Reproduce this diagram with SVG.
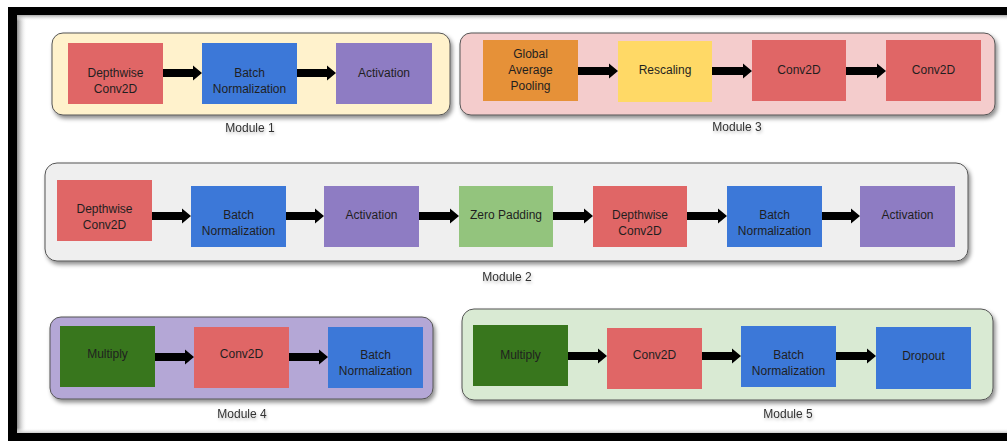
<svg xmlns="http://www.w3.org/2000/svg" width="1007" height="441" viewBox="0 0 1007 441">
<defs>
<filter id="sh" x="-5%" y="-20%" width="115%" height="150%">
<feDropShadow dx="2" dy="3" stdDeviation="2" flood-color="#000" flood-opacity="0.45"/>
</filter>
<filter id="tsh" x="-20%" y="-50%" width="140%" height="200%">
<feDropShadow dx="1" dy="2" stdDeviation="1.5" flood-color="#000" flood-opacity="0.25"/>
</filter>
<linearGradient id="gl" x1="0" y1="0" x2="1" y2="0">
<stop offset="0" stop-color="#8a8a8a"/>
<stop offset="1" stop-color="#fff" stop-opacity="0"/>
</linearGradient>
<linearGradient id="gt" x1="0" y1="0" x2="0" y2="1">
<stop offset="0" stop-color="#a8a8a8"/>
<stop offset="1" stop-color="#fff" stop-opacity="0"/>
</linearGradient>
<linearGradient id="gb" x1="0" y1="1" x2="0" y2="0">
<stop offset="0" stop-color="#c8c8c8"/>
<stop offset="1" stop-color="#fff" stop-opacity="0"/>
</linearGradient>
</defs>
<style>
.box{stroke:#555;stroke-width:1;filter:url(#sh)}
.n{stroke:none}
.red{fill:#e06666}
.blue{fill:#3c78d8}
.purple{fill:#8e7cc3}
.orange{fill:#e69138}
.yellow{fill:#ffd966}
.lgreen{fill:#93c47d}
.dgreen{fill:#38761d}
text{font-family:"Liberation Sans",Arial,sans-serif;font-size:12px;fill:#1f1f1f;text-anchor:middle}
.lbl{fill:#333;filter:url(#tsh)}
.arr{fill:#000}
</style>
<rect x="0" y="0" width="1007" height="441" fill="#fff"/>
<g id="frame">
<rect x="17" y="15" width="10" height="418" fill="url(#gl)"/>
<rect x="17" y="15" width="990" height="6" fill="url(#gt)"/>
<rect x="17" y="428" width="990" height="5" fill="url(#gb)"/>
<rect x="8" y="7" width="999" height="8" fill="#000"/>
<rect x="8" y="7" width="9" height="434" fill="#000"/>
<rect x="8" y="433" width="999" height="8" fill="#000"/>
</g>

<g id="module1">
<rect class="box" x="52" y="33" width="398" height="82" rx="11" fill="#fff2cc"/>
<text class="lbl" x="250" y="132">Module 1</text>
</g>
<g id="m1-depthwise"><rect class="n red" x="68" y="43" width="95" height="61"/><text x="115.5" y="76.5">Depthwise</text><text x="115.5" y="92.5">Conv2D</text></g>
<g id="m1-batchnorm"><rect class="n blue" x="202" y="43" width="95" height="61"/><text x="249.5" y="76.5">Batch</text><text x="249.5" y="92.5">Normalization</text></g>
<g id="m1-activation"><rect class="n purple" x="336" y="43" width="96" height="61"/><text x="384" y="76.5">Activation</text></g>

<g id="module3">
<rect class="box" x="460" y="33" width="535" height="82" rx="11" fill="#f4cccc"/>
<text class="lbl" x="737" y="131">Module 3</text>
</g>
<g id="m3-gap"><rect class="n orange" x="483" y="40" width="95" height="61"/><text x="530.5" y="58">Global</text><text x="530.5" y="74">Average</text><text x="530.5" y="90">Pooling</text></g>
<g id="m3-rescaling"><rect class="n yellow" x="618" y="41" width="94" height="61"/><text x="665" y="74">Rescaling</text></g>
<g id="m3-conv2d-a"><rect class="n red" x="752" y="40" width="94" height="61"/><text x="799" y="74">Conv2D</text></g>
<g id="m3-conv2d-b"><rect class="n red" x="886" y="40" width="95" height="61"/><text x="933.5" y="74">Conv2D</text></g>

<g id="module2">
<rect class="box" x="45" y="163" width="923" height="98" rx="12" fill="#efefef"/>
<text class="lbl" x="507" y="281">Module 2</text>
</g>
<g id="m2-depthwise-a"><rect class="n red" x="57" y="180" width="95" height="61"/><text x="104.5" y="213">Depthwise</text><text x="104.5" y="229">Conv2D</text></g>
<g id="m2-batchnorm-a"><rect class="n blue" x="191" y="186" width="95" height="61"/><text x="238.5" y="219">Batch</text><text x="238.5" y="234.5">Normalization</text></g>
<g id="m2-activation-a"><rect class="n purple" x="324" y="186" width="95" height="61"/><text x="371.5" y="219">Activation</text></g>
<g id="m2-zeropadding"><rect class="n lgreen" x="459" y="186" width="94" height="61"/><text x="506" y="219">Zero Padding</text></g>
<g id="m2-depthwise-b"><rect class="n red" x="593" y="186" width="94" height="61"/><text x="640" y="219">Depthwise</text><text x="640" y="234.5">Conv2D</text></g>
<g id="m2-batchnorm-b"><rect class="n blue" x="727" y="186" width="95" height="61"/><text x="774.5" y="219">Batch</text><text x="774.5" y="234.5">Normalization</text></g>
<g id="m2-activation-b"><rect class="n purple" x="860" y="186" width="95" height="61"/><text x="907.5" y="219">Activation</text></g>

<g id="module4">
<rect class="box" x="50" y="317" width="383" height="82" rx="11" fill="#b4a7d6"/>
<text class="lbl" x="242" y="418">Module 4</text>
</g>
<g id="m4-multiply"><rect class="n dgreen" x="60" y="326" width="95" height="61"/><text x="107.5" y="358">Multiply</text></g>
<g id="m4-conv2d"><rect class="n red" x="194" y="327" width="95" height="61"/><text x="241.5" y="358">Conv2D</text></g>
<g id="m4-batchnorm"><rect class="n blue" x="328" y="327" width="95" height="61"/><text x="375.5" y="359">Batch</text><text x="375.5" y="375">Normalization</text></g>

<g id="module5">
<rect class="box" x="462" y="309" width="531" height="91" rx="12" fill="#d9ead3"/>
<text class="lbl" x="788" y="418">Module 5</text>
</g>
<g id="m5-multiply"><rect class="n dgreen" x="473" y="325" width="95" height="61"/><text x="520.5" y="359">Multiply</text></g>
<g id="m5-conv2d"><rect class="n red" x="607" y="328" width="95" height="61"/><text x="654.5" y="359">Conv2D</text></g>
<g id="m5-batchnorm"><rect class="n blue" x="741" y="326" width="95" height="61"/><text x="788.5" y="359">Batch</text><text x="788.5" y="375">Normalization</text></g>
<g id="m5-dropout"><rect class="n blue" x="876" y="327" width="95" height="62"/><text x="923.5" y="360">Dropout</text></g>

<g id="connectors" class="arr">
<path d="M163 69H193V65.5L202 73L193 80.5V77H163Z"/>
<path d="M297 69H327V65.5L336 73L327 80.5V77H297Z"/>
<path d="M578 67H609V63.5L618 71L609 78.5V75H578Z"/>
<path d="M712 67H743V63.5L752 71L743 78.5V75H712Z"/>
<path d="M846 67H877V63.5L886 71L877 78.5V75H846Z"/>
<path d="M152 212H182V208.5L191 216L182 223.5V220H152Z"/>
<path d="M286 212H315V208.5L324 216L315 223.5V220H286Z"/>
<path d="M419 212H450V208.5L459 216L450 223.5V220H419Z"/>
<path d="M553 212H584V208.5L593 216L584 223.5V220H553Z"/>
<path d="M687 212H718V208.5L727 216L718 223.5V220H687Z"/>
<path d="M822 212H851V208.5L860 216L851 223.5V220H822Z"/>
<path d="M155 353H185V349.5L194 357L185 364.5V361H155Z"/>
<path d="M289 353H319V349.5L328 357L319 364.5V361H289Z"/>
<path d="M568 352H598V348.5L607 356L598 363.5V360H568Z"/>
<path d="M702 352H732V348.5L741 356L732 363.5V360H702Z"/>
<path d="M836 352H867V348.5L876 356L867 363.5V360H836Z"/>
</g>
</svg>
